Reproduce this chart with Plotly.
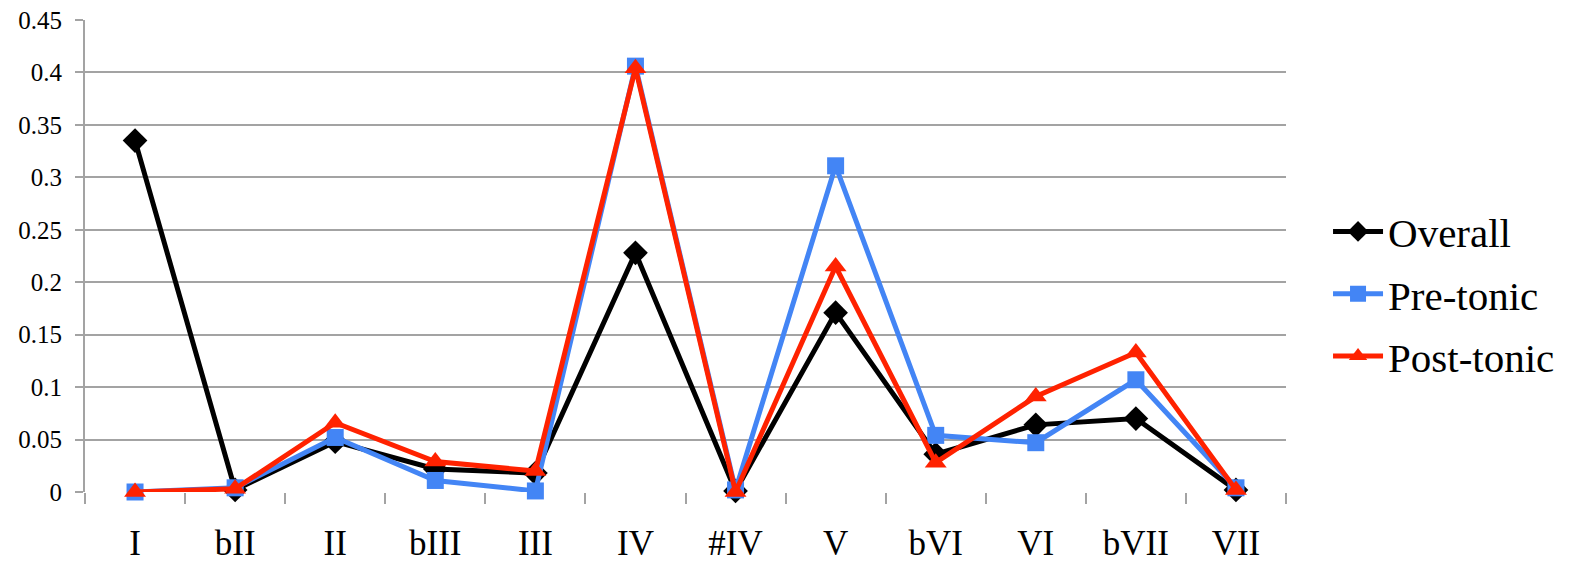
import plotly.graph_objects as go

categories = ["I", "bII", "II", "bIII", "III", "IV", "#IV", "V", "bVI", "VI", "bVII", "VII"]
overall = [0.335, 0.002, 0.048, 0.022, 0.018, 0.228, 0.001, 0.171, 0.036, 0.064, 0.070, 0.002]
pre_tonic = [0.000, 0.004, 0.052, 0.011, 0.001, 0.406, 0.002, 0.311, 0.054, 0.047, 0.107, 0.004]
post_tonic = [0.000, 0.003, 0.066, 0.029, 0.020, 0.404, 0.000, 0.215, 0.028, 0.091, 0.133, 0.002]
y_ticks = [0, 0.05, 0.1, 0.15, 0.2, 0.25, 0.3, 0.35, 0.4, 0.45]
y_tick_labels = ["0", "0.05", "0.1", "0.15", "0.2", "0.25", "0.3", "0.35", "0.4", "0.45"]

FONT = "Liberation Serif"
GRID = "#a3a3a3"

fig = go.Figure()
series = [
    ("Overall", overall, "#000000", "diamond", 19),
    ("Pre-tonic", pre_tonic, "#4385f5", "square", 17),
    ("Post-tonic", post_tonic, "#ff2200", "triangle-up", 19),
]
for name, vals, col, sym, sz in series:
    fig.add_trace(go.Scatter(
        x=categories, y=vals, name=name, mode="lines+markers",
        line=dict(color=col, width=5),
        marker=dict(symbol=sym, size=sz, color=col),
        legendgroup=name,
        cliponaxis=False,
    ))

fig.update_layout(
    width=1572, height=566,
    margin=dict(l=85, r=280, t=20, b=74),
    paper_bgcolor="white", plot_bgcolor="white",
    font=dict(family=FONT, color="black"),
    showlegend=True,
    legend=dict(
        x=1.035, xanchor="left", y=0.42, yanchor="middle",
        font=dict(size=41, family=FONT),
        tracegroupgap=6, itemwidth=50,
        bgcolor="rgba(0,0,0,0)",
    ),
    xaxis=dict(
        type="category", categoryorder="array", categoryarray=categories,
        range=[-0.5, 11.5], automargin=False,
        showgrid=False, showline=False, zeroline=False,
        ticks="outside", tickson="boundaries", ticklen=11, tickwidth=2, tickcolor=GRID,
        tickfont=dict(size=35, family=FONT),
        ticklabelstandoff=27,
    ),
    yaxis=dict(
        range=[0, 0.45], automargin=False,
        tickvals=y_ticks, ticktext=y_tick_labels,
        showgrid=True, gridcolor=GRID, gridwidth=2,
        showline=True, linecolor=GRID, linewidth=2,
        zeroline=False,
        ticks="outside", ticklen=8, tickwidth=2, tickcolor=GRID,
        tickfont=dict(size=25, family=FONT),
        ticklabelstandoff=8,
    ),
)

fig.write_html("out.html")
